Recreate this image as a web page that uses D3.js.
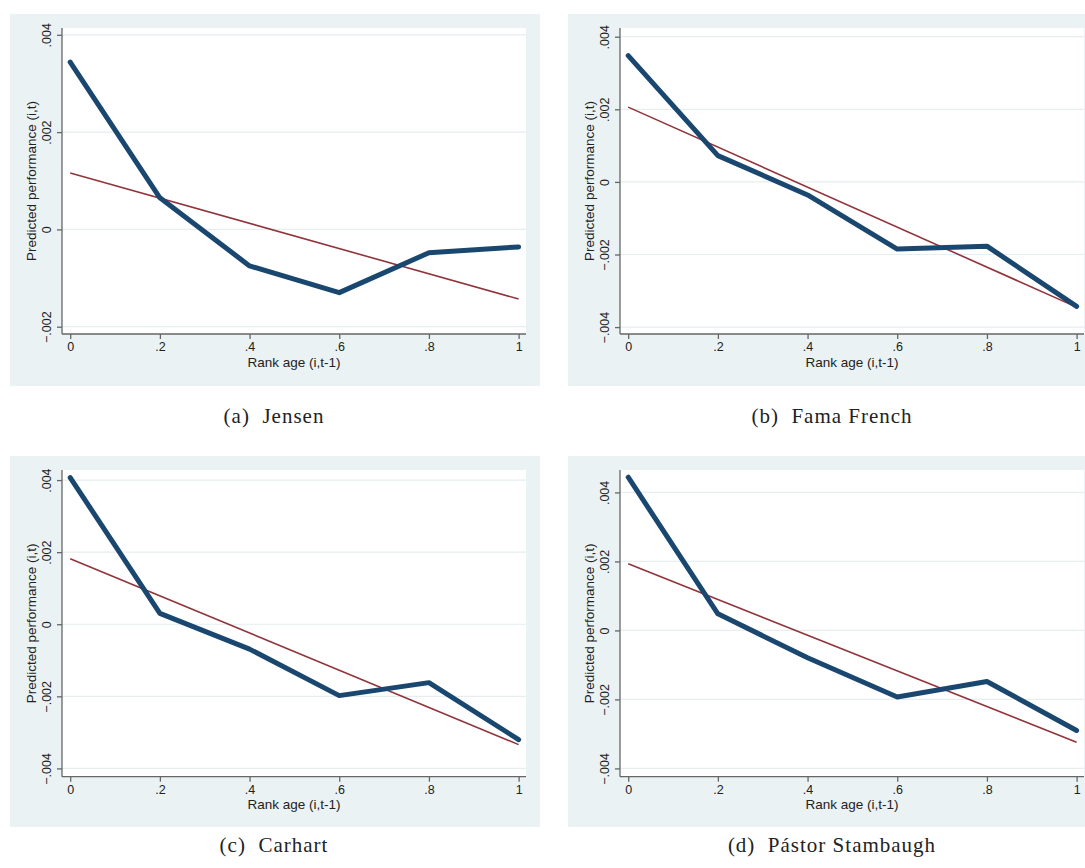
<!DOCTYPE html>
<html>
<head>
<meta charset="utf-8">
<script src="https://cdn.jsdelivr.net/npm/d3@7"></script>
<style>
  body { margin: 0; background: #fff; }
  svg { display: block; }
</style>
</head>
<body>
<div id="chart"></div>
<script>
// x positions (rank age buckets)
const rankAge = [0, 0.2, 0.4, 0.6, 0.8, 1];

// predicted performance per model (thick line)
const jensen = [0.00344, 0.00065, -0.00075, -0.0013, -0.00048, -0.00036];
const famaFrench = [0.00348, 0.000725, -0.00036, -0.00185, -0.00177, -0.00343];
const carhart = [0.00407, 0.0003, -0.00069, -0.00198, -0.00162, -0.0032];
const pastorStambaugh = [0.00444, 0.00048, -0.00079, -0.00193, -0.00148, -0.0029];

// linear fit, value at rank 0 and rank 1
const jensenFit = [0.00116, -0.00143];
const famaFrenchFit = [0.00206, -0.00345];
const carhartFit = [0.00182, -0.00334];
const pastorStambaughFit = [0.00193, -0.00324];

// axis ranges
const xRange = [-0.0183, 1.0165];
const jensenRange = [-0.00215, 0.00414];
const famaFrenchRange = [-0.00419, 0.00424];
const carhartRange = [-0.00423, 0.00428];
const pastorStambaughRange = [-0.00424, 0.00465];

const xTicks = [0, 0.2, 0.4, 0.6, 0.8, 1];
const yTicks = [-0.004, -0.002, 0, 0.002, 0.004];

const captions = ["(a)  Jensen", "(b)  Fama French", "(c)  Carhart", "(d)  P\u00e1stor Stambaugh"];
const xTitle = "Rank age (i,t-1)";
const yTitle = "Predicted performance (i,t)";

const navy = "#1a476f";
const maroon = "#90353b";
const bgColor = "#eaf2f3";
const gridColor = "#e6eef0";
const axisColor = "#666";
const sansFont = "'Liberation Sans', Arial, sans-serif";
const serifFont = "'Liberation Serif', 'Times New Roman', serif";

const panels = [
  { series: jensen, fit: jensenFit, yRange: jensenRange, left: 10, top: 14, bgH: 372, plotH: 306, capY: 423 },
  { series: famaFrench, fit: famaFrenchFit, yRange: famaFrenchRange, left: 568, top: 14, bgH: 372, plotH: 306, capY: 423 },
  { series: carhart, fit: carhartFit, yRange: carhartRange, left: 10, top: 456, bgH: 371, plotH: 306.7, capY: 852 },
  { series: pastorStambaugh, fit: pastorStambaughFit, yRange: pastorStambaughRange, left: 568, top: 456, bgH: 371, plotH: 306.7, capY: 852 }
];

const svg = d3.select("#chart")
  .append("svg")
  .attr("width", 1085)
  .attr("height", 868);

// stata style: .004, -.002, 0
function stataFmt(v) {
  if (Math.abs(v) < 1e-12) return "0";
  return d3.format(".3f")(v).replace("0.", ".");
}

const bgW = 530;
const plotW = 464;
const plotOffX = 52;
const plotOffY = 14;

panels.forEach((p, i) => {
  const g = svg.append("g").attr("transform", `translate(${p.left},${p.top})`);

  g.append("rect")
    .attr("width", bgW)
    .attr("height", p.bgH)
    .attr("fill", bgColor);

  const plot = g.append("g").attr("transform", `translate(${plotOffX},${plotOffY})`);

  plot.append("rect")
    .attr("width", plotW)
    .attr("height", p.plotH)
    .attr("fill", "#fff");

  const x = d3.scaleLinear().domain(xRange).range([0, plotW]);
  const y = d3.scaleLinear().domain(p.yRange).range([p.plotH, 0]);
  const ticks = yTicks.filter(t => t >= p.yRange[0] && t <= p.yRange[1]);

  // gridlines
  plot.selectAll(".grid")
    .data(ticks)
    .enter()
    .append("line")
    .attr("x1", 0)
    .attr("x2", plotW)
    .attr("y1", d => y(d))
    .attr("y2", d => y(d))
    .attr("stroke", gridColor)
    .attr("stroke-width", 1.2);

  // fitted line
  plot.append("line")
    .attr("x1", x(0))
    .attr("y1", y(p.fit[0]))
    .attr("x2", x(1))
    .attr("y2", y(p.fit[1]))
    .attr("stroke", maroon)
    .attr("stroke-width", 1.6);

  const line = d3.line()
    .x((d, k) => x(rankAge[k]))
    .y(d => y(d));

  plot.append("path")
    .datum(p.series)
    .attr("d", line)
    .attr("fill", "none")
    .attr("stroke", navy)
    .attr("stroke-width", 5)
    .attr("stroke-linejoin", "round")
    .attr("stroke-linecap", "round");

  // axes
  const xAxis = d3.axisBottom(x)
    .tickValues(xTicks)
    .tickSize(5)
    .tickPadding(3)
    .tickFormat(d => (d === 0 ? "0" : d === 1 ? "1" : stataFmt(d).replace(/0+$/, "")));

  const xAxisGroup = plot.append("g")
    .attr("transform", `translate(0,${p.plotH})`)
    .call(xAxis);

  const yAxis = d3.axisLeft(y)
    .tickValues(ticks)
    .tickSize(5)
    .tickFormat(stataFmt);

  const yAxisGroup = plot.append("g").call(yAxis);

  [xAxisGroup, yAxisGroup].forEach(ax => {
    ax.select(".domain").attr("stroke", axisColor).attr("stroke-width", 1.3);
    ax.selectAll(".tick line").attr("stroke", axisColor).attr("stroke-width", 1.3);
    ax.selectAll("text")
      .style("font-family", sansFont)
      .style("font-size", "12.5px")
      .attr("fill", "#222");
  });
  xAxisGroup.select(".domain").attr("d", `M0,0H${plotW}`);
  yAxisGroup.select(".domain").attr("d", `M0,0V${p.plotH}`);

  yAxisGroup.selectAll(".tick text")
    .attr("x", null)
    .attr("dy", null)
    .attr("text-anchor", "middle")
    .attr("transform", "translate(-11,0) rotate(-90)");

  // axis titles
  plot.append("text")
    .attr("x", plotW / 2)
    .attr("y", p.plotH + 32.5)
    .attr("text-anchor", "middle")
    .style("font-family", sansFont)
    .style("font-size", "13.5px")
    .attr("fill", "#222")
    .text(xTitle);

  plot.append("text")
    .attr("transform", `translate(-26,${p.plotH / 2}) rotate(-90)`)
    .attr("text-anchor", "middle")
    .style("font-family", sansFont)
    .style("font-size", "13.5px")
    .attr("fill", "#222")
    .text(yTitle);

  // caption below panel
  svg.append("text")
    .attr("x", p.left + 264)
    .attr("y", p.capY)
    .attr("text-anchor", "middle")
    .style("font-family", serifFont)
    .style("font-size", "21px")
    .style("letter-spacing", "1px")
    .style("white-space", "pre")
    .attr("fill", "#222")
    .text(captions[i]);
});
</script>
</body>
</html>
